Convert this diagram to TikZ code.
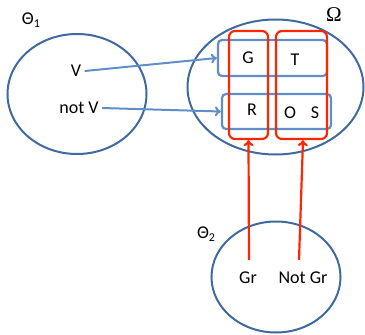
\documentclass[tikz,border=0pt]{standalone}
\usepackage{fontspec}
\setmainfont{Carlito}
\newfontfamily\omegafont{Liberation Serif}
\usetikzlibrary{shapes.geometric,arrows.meta}
\definecolor{setblue}{RGB}{62,106,160}
\definecolor{boxblue}{RGB}{95,142,200}
\definecolor{boxred}{RGB}{255,38,0}

\begin{document}
\begin{tikzpicture}[x=1pt,y=-1pt,
    every node/.style={font=\fontsize{18}{21}\selectfont},
    set/.style={draw=setblue,line width=2pt,ellipse,inner sep=0pt},
    bluebox/.style={draw=boxblue,line width=2.2pt,rounded corners=4pt,inner sep=0pt},
    redbox/.style={draw=boxred,line width=2.2pt,rounded corners=6pt,inner sep=0pt},
    bluearrow/.style={boxblue,line width=2pt,-{To[length=6pt,width=10pt]}},
    redarrow/.style={boxred,line width=2.2pt,-{To[length=6pt,width=10pt]}}]
  \useasboundingbox (0,0) rectangle (365,335);
  % the three sets
  \node[set,minimum width=139pt,minimum height=120pt] (theta1) at (77,94) {};
  \node[set,minimum width=176pt,minimum height=135pt] (omega) at (275.5,87) {};
  \node[set,minimum width=129pt,minimum height=111pt] (theta2) at (276,277) {};
  \node (thetaone) at (31,20) {Θ\raisebox{-0.4ex}{\fontsize{12}{12}\selectfont 1}};
  \node (thetatwo) at (206,234) {Θ\raisebox{-0.4ex}{\fontsize{12}{12}\selectfont 2}};
  \node (omegalabel) at (334,15) {\fontsize{21}{21}\selectfont\omegafont Ω};
  % rows and columns inside Omega
  \node[bluebox,minimum width=109pt,minimum height=36pt] (vrow) at (272.5,58) {};
  \node[bluebox,minimum width=109pt,minimum height=35pt] (notvrow) at (276.5,111.5) {};
  \node[redbox,minimum width=39pt,minimum height=108pt] (grcol) at (248.5,85) {};
  \node[redbox,minimum width=51pt,minimum height=108pt] (notgrcol) at (301.5,85) {};
  \node (g) at (248,58) {G};
  \node (t) at (295,60) {T};
  \node (r) at (252,110) {R};
  \node (o) at (290,113) {O};
  \node (s) at (315,113) {S};
  % elements of Theta 1
  \node (v) at (76,71) {V};
  \node (notv) at (79,108) {not V};
  \draw[bluearrow] (v.east) -- (vrow.west);
  \draw[bluearrow] (notv.east) -- (notvrow.west);
  % elements of Theta 2
  \node (gr) at (248,278) {Gr};
  \node (notgr) at (303,278) {Not Gr};
  \coordinate (grtop) at (249,260);
  \coordinate (notgrtop) at (299,260);
  \draw[redarrow] (grtop) -- (grcol.south);
  \draw[redarrow] (notgrtop) -- ([xshift=1.5pt]notgrcol.south);
\end{tikzpicture}
\end{document}
